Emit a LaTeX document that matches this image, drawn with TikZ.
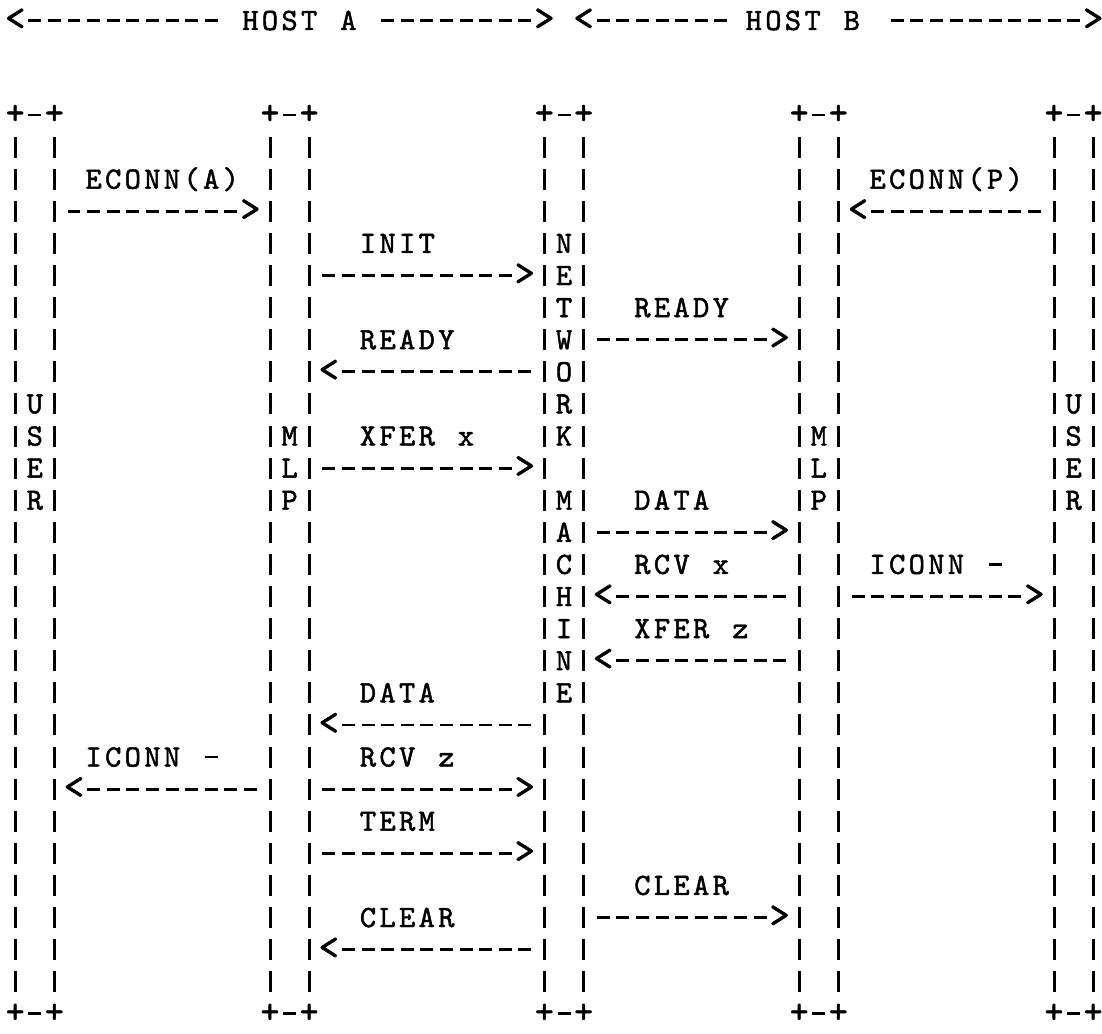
\documentclass[tikz,border=0pt]{standalone}
\usepackage{fontspec}
\newfontfamily\twfont{lmmono10-regular}[Extension=.otf,FakeBold=1.5]
\newlength\cw \setlength\cw{19.6pt}
\newcount\rowno
\def\gline#1{\glineA#1\relax}
\def\glineA#1{\ifx\relax#1\else\gchar{#1}\expandafter\glineA\fi}
\def\gchar#1{\makebox[\cw][c]{\gglyph{#1}}}
\def\gglyph#1{%
  \ifx.#1\relax\else
  \ifx-#1\raisebox{8.1pt}{\rule{13pt}{2.8pt}}\else
  \ifx|#1\raisebox{-1pt}{\rule{3pt}{21pt}}\else
  \ifx+#1\raisebox{0.6pt}{\scalebox{1.15}{+}}\else
  \ifx<#1\raisebox{-0.2pt}{\scalebox{1.25}{<}}\else
  \ifx>#1\raisebox{-0.2pt}{\scalebox{1.25}{>}}\else
  #1\fi\fi\fi\fi\fi\fi}
\tikzset{rowtxt/.style={anchor=base west,inner sep=0pt,outer sep=0pt,
  font=\twfont\fontsize{31pt}{31pt}\selectfont,text=black}}
% one row of the ASCII chart: user | seg A | MLP | seg B | net | seg C | MLP | seg D | user
\newcommand\R[9]{%
  \node[rowtxt] (row\the\rowno) at (5.4pt,{-115pt-32.1pt*\the\rowno-9.5pt})
    {\gline{|#1|#2|#3|#4|#5|#6|#7|#8|#9|}};%
  \global\advance\rowno by 1\relax}
\newcommand\Brow{%
  \node[rowtxt] (row\the\rowno) at (5.4pt,{-115pt-32.1pt*\the\rowno-9.5pt})
    {\gline{+-+..........+-+...........+-+..........+-+..........+-+}};%
  \global\advance\rowno by 1\relax}
\begin{document}
\begin{tikzpicture}[x=1pt,y=1pt]
\fill[white] (0,0) rectangle (1102,-1033);
\useasboundingbox (0,0) rectangle (1102,-1033);
% header
\node[rowtxt] (hdrL) at (5.4pt,-30pt) {\gline{<----------.HOST.A.-------->.<-------}};
\node[rowtxt] (hdrB) at (744pt,-30pt) {\gline{HOST.B}};
\node[rowtxt] (hdrR) at (887.4pt,-30pt) {\gline{---------->}};
\global\rowno=0
\Brow
\R{.}{..........}{.}{...........}{.}{..........}{.}{..........}{.}
\R{.}{.ECONN(A).}{.}{...........}{.}{..........}{.}{.ECONN(P).}{.}
\R{.}{--------->}{.}{...........}{.}{..........}{.}{<---------}{.}
\R{.}{..........}{.}{..INIT.....}{N}{..........}{.}{..........}{.}
\R{.}{..........}{.}{---------->}{E}{..........}{.}{..........}{.}
\R{.}{..........}{.}{...........}{T}{..READY...}{.}{..........}{.}
\R{.}{..........}{.}{..READY....}{W}{--------->}{.}{..........}{.}
\R{.}{..........}{.}{<----------}{O}{..........}{.}{..........}{.}
\R{U}{..........}{.}{...........}{R}{..........}{.}{..........}{U}
\R{S}{..........}{M}{..XFER.x...}{K}{..........}{M}{..........}{S}
\R{E}{..........}{L}{---------->}{.}{..........}{L}{..........}{E}
\R{R}{..........}{P}{...........}{M}{..DATA....}{P}{..........}{R}
\R{.}{..........}{.}{...........}{A}{--------->}{.}{..........}{.}
\R{.}{..........}{.}{...........}{C}{..RCV.x...}{.}{.ICONN.-..}{.}
\R{.}{..........}{.}{...........}{H}{<---------}{.}{--------->}{.}
\R{.}{..........}{.}{...........}{I}{..XFER.z..}{.}{..........}{.}
\R{.}{..........}{.}{...........}{N}{<---------}{.}{..........}{.}
\R{.}{..........}{.}{..DATA.....}{E}{..........}{.}{..........}{.}
\R{.}{..........}{.}{<----------}{.}{..........}{.}{..........}{.}
\R{.}{.ICONN.-..}{.}{..RCV.z....}{.}{..........}{.}{..........}{.}
\R{.}{<---------}{.}{---------->}{.}{..........}{.}{..........}{.}
\R{.}{..........}{.}{..TERM.....}{.}{..........}{.}{..........}{.}
\R{.}{..........}{.}{---------->}{.}{..........}{.}{..........}{.}
\R{.}{..........}{.}{...........}{.}{..CLEAR...}{.}{..........}{.}
\R{.}{..........}{.}{..CLEAR....}{.}{--------->}{.}{..........}{.}
\R{.}{..........}{.}{<----------}{.}{..........}{.}{..........}{.}
\R{.}{..........}{.}{...........}{.}{..........}{.}{..........}{.}
\Brow
\end{tikzpicture}
\end{document}
